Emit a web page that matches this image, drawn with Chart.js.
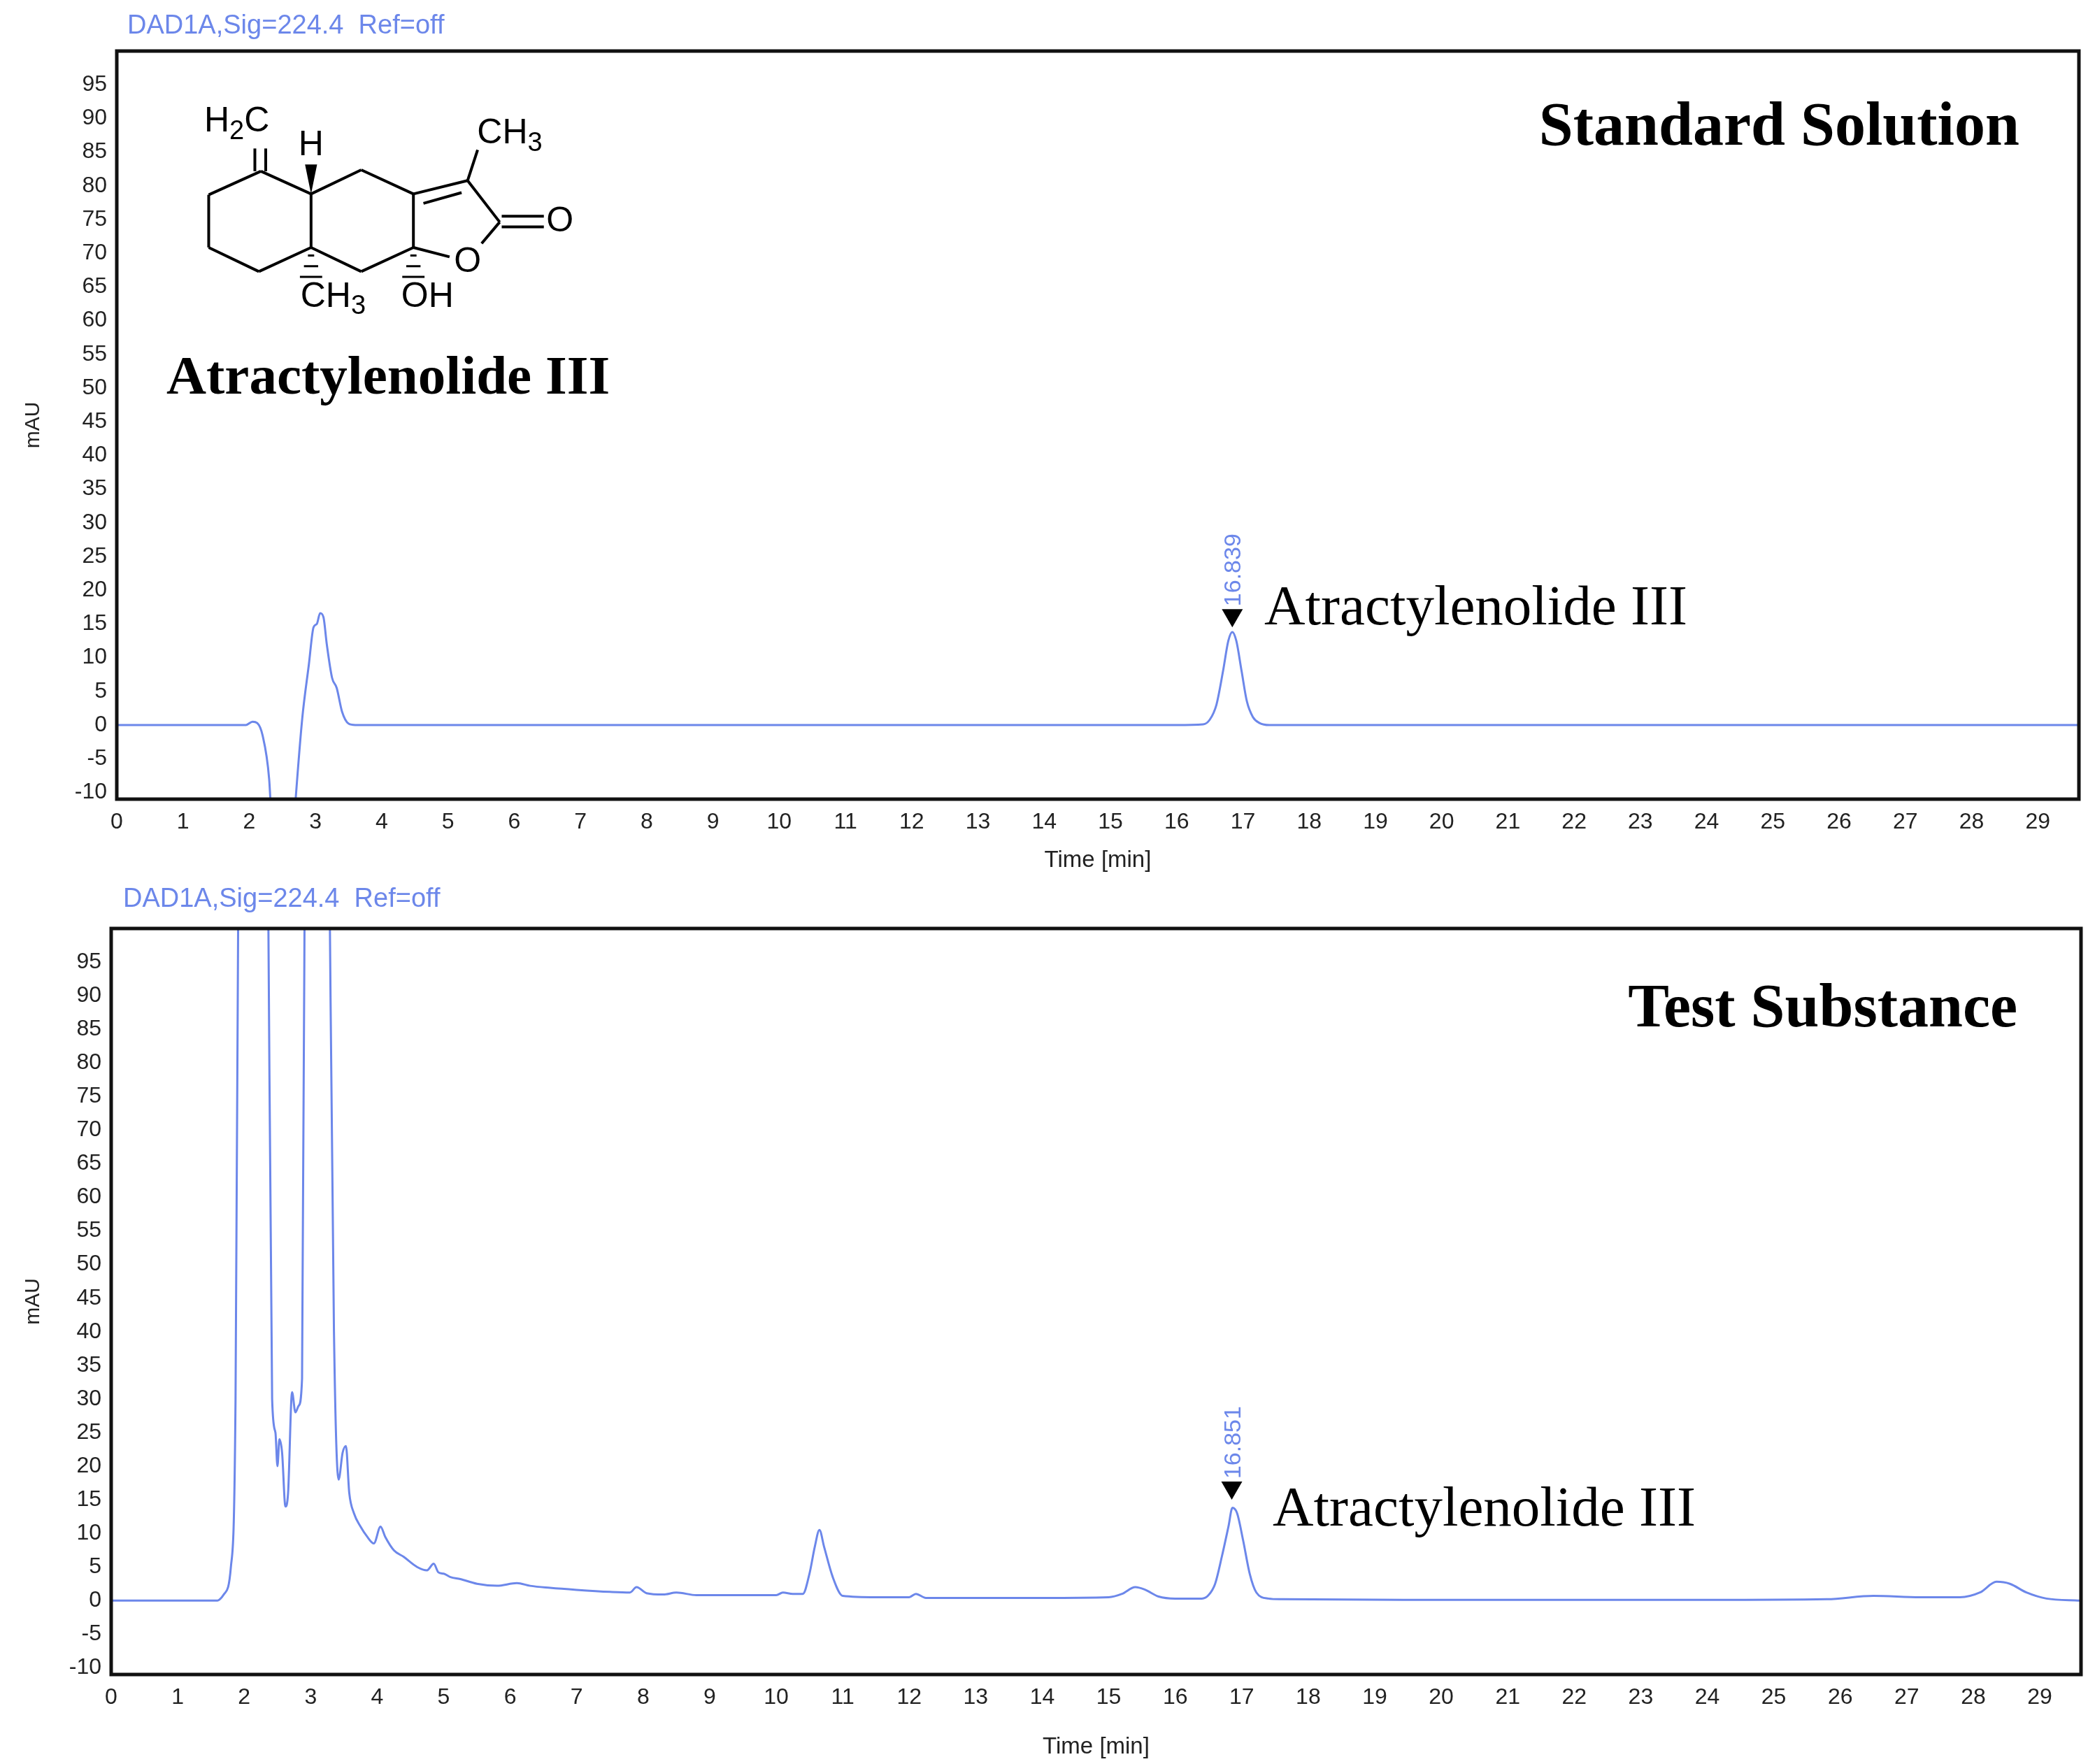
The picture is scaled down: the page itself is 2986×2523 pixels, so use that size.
<!DOCTYPE html>
<html><head><meta charset="utf-8">
<script src="https://cdn.jsdelivr.net/npm/chart.js@4"></script>
<style>body{margin:0;background:#fff;width:2986px;height:2523px;position:relative;overflow:hidden}canvas{position:absolute;left:0}</style>
</head><body>
<canvas id="c1" width="2986" height="1255" style="top:0"></canvas>
<canvas id="c2" width="2986" height="1268" style="top:1255px"></canvas>
<script>
const xTicks=[0,1,2,3,4,5,6,7,8,9,10,11,12,13,14,15,16,17,18,19,20,21,22,23,24,25,26,27,28,29];
const yTicks=[-10,-5,0,5,10,15,20,25,30,35,40,45,50,55,60,65,70,75,80,85,90,95];
const stdTime=[0,1.0,1.95,2.05,2.12,2.2,2.3,2.4,2.6,2.7,2.8,2.9,2.97,3.02,3.07,3.12,3.17,3.25,3.32,3.4,3.5,3.6,4,8,16,16.4,16.5,16.6,16.7,16.78,16.84,16.9,16.98,17.06,17.15,17.25,17.4,17.6,20,29.6];
const stdSignal=[0,0,0,0.5,0.3,-1.5,-8,-25,-25,-11,1,9,14.5,15,16.6,16,12,7,5.5,2,0.2,0,0,0,0,0.1,0.8,3,8,12.5,13.8,12.5,8,3.5,1.2,0.3,0,0,0,0];
const testTime=[0,1.6,1.7,1.8,1.87,1.93,2.0,2.2,2.35,2.42,2.47,2.5,2.53,2.57,2.62,2.66,2.72,2.77,2.82,2.87,2.93,3.0,3.2,3.28,3.35,3.42,3.48,3.53,3.58,3.65,3.75,3.85,3.95,4.05,4.12,4.25,4.4,4.6,4.75,4.85,4.92,5.0,5.1,5.25,5.5,5.8,6.1,6.3,6.6,7.0,7.5,7.8,7.9,8.05,8.3,8.5,8.8,9.5,10.0,10.1,10.25,10.4,10.5,10.58,10.65,10.72,10.85,11.0,11.5,12.0,12.1,12.25,13,14,15.0,15.2,15.4,15.55,15.75,16.0,16.4,16.5,16.6,16.7,16.8,16.86,16.93,17.02,17.12,17.22,17.4,17.6,20,24,25.8,26.5,27.2,27.8,28.1,28.35,28.55,28.8,29.1,29.6];
const testSignal=[0,0,1,5,30,140,200,200,120,30,25,20,24,22,14,16,31,28,29,33,150,200,200,110,40,18,22,23,16,13,11,9.5,8.5,11,9.5,7.5,6.5,5,4.5,5.5,4.2,4,3.5,3.2,2.5,2.2,2.6,2.2,1.9,1.6,1.3,1.2,2,1.1,0.9,1.2,0.8,0.8,0.8,1.2,1,1,4,8,10.5,8,3.5,0.7,0.5,0.5,1,0.4,0.4,0.4,0.5,1,2,1.6,0.6,0.3,0.3,0.8,2.5,6.5,11,13.8,13,9,4,1.2,0.3,0.2,0.1,0.1,0.2,0.7,0.5,0.5,1.2,2.8,2.5,1.2,0.3,0];
const std=stdTime.map((x,i)=>({x,y:stdSignal[i]}));
const test=testTime.map((x,i)=>({x,y:testSignal[i]}));
const BLUE='#6c87ea';
function frame(){return {id:'frame',afterDraw(c){const a=c.chartArea,g=c.ctx;g.save();g.strokeStyle='#111';g.lineWidth=5;g.strokeRect(a.left,a.top,a.right-a.left,a.bottom-a.top);g.restore();}};}
function annot(o){return {id:'annot',afterDraw(c){const g=c.ctx,xs=c.scales.x,ys=c.scales.y;g.save();
 g.fillStyle=BLUE;g.font='38px "Liberation Sans"';g.textBaseline='alphabetic';g.fillText('DAD1A,Sig=224.4  Ref=off',o.dx,o.dy);
 const px=xs.getPixelForValue(o.peak),py=ys.getPixelForValue(o.peakY);
 g.beginPath();g.moveTo(px-15,py-26);g.lineTo(px+15,py-26);g.lineTo(px,py);g.closePath();g.fillStyle='#000';g.fill();
 g.save();g.translate(px+12,py-30);g.rotate(-Math.PI/2);g.fillStyle=BLUE;g.font='34px "Liberation Sans"';g.fillText(o.rt,0,0);g.restore();
 g.fillStyle='#000';g.font='81px "Liberation Serif"';g.fillText('Atractylenolide III',o.lx,o.ly);
 g.font='bold 88px "Liberation Serif"';g.textAlign='right';g.fillText(o.title,o.tx,o.ty);
 if(o.mol){drawMol(g);}
 g.restore();}};}
function drawMol(g){const sx=900/1568,sy=600/1568,P=(x,y)=>[x*sx,y*sy];
 const L=(a,b)=>{g.beginPath();g.moveTo(...P(...a));g.lineTo(...P(...b));g.stroke();};
 g.strokeStyle='#000';g.lineWidth=4;
 const C1=[650,640],C2=[775,725],C3=[775,925],C4=[645,1015],C5=[520,925],C6=[520,728],C7=[900,635],C8=[1030,725],C9=[1030,925],C10=[900,1015],C11=[1165,675],C12=[1245,830];
 [[C1,C2],[C2,C3],[C3,C4],[C4,C5],[C5,C6],[C6,C1],[C2,C7],[C7,C8],[C8,C9],[C9,C10],[C10,C3],[C8,C11],[C11,C12],[C12,[1200,910]],[[1120,960],C9],[C11,[1190,560]]].forEach(p=>L(p[0],p[1]));
 L([1055,760],[1150,720]);L([1250,808],[1355,808]);L([1250,848],[1355,848]);
 L([635,640],[635,555]);L([662,640],[662,555]);
 g.beginPath();g.moveTo(...P(775,725));g.lineTo(...P(760,615));g.lineTo(...P(790,615));g.closePath();g.fillStyle='#000';g.fill();
 g.lineWidth=3;[[775,955],[775,995],[775,1035],[1030,955],[1030,995],[1030,1035]].forEach(d=>{const w=4+(d[1]-940)/4;L([d[0]-w,d[1]],[d[0]+w,d[1]]);});
 g.fillStyle='#000';g.textAlign='center';g.textBaseline='middle';g.font='50px "Liberation Sans"';
 g.fillText('H',775*sx,545*sy);g.fillText('O',1395*sx,828*sy);g.fillText('O',1165*sx,980*sy);g.fillText('OH',1065*sx,1110*sy);
 sub(g,'H','2','C',590*sx,455*sy);sub(g,'CH','3','',1270*sx,500*sy);sub(g,'CH','3','',830*sx,1110*sy);}
function sub(g,a,b,c,x,y){const F='50px "Liberation Sans"',f='38px "Liberation Sans"';g.font=F;const wa=g.measureText(a).width;g.font=f;const wb=g.measureText(b).width;g.font=F;const wc=g.measureText(c).width;let x0=x-(wa+wb+wc)/2;g.textAlign='left';g.fillText(a,x0,y);g.font=f;g.fillText(b,x0+wa,y+14);g.font=F;g.fillText(c,x0+wa+wb,y);g.textAlign='center';}
function make(id,data,top,xh,right,left,o){
 new Chart(document.getElementById(id),{type:'line',
 data:{datasets:[{data,borderColor:BLUE,borderWidth:3,pointRadius:0,cubicInterpolationMode:'monotone',fill:false}]},
 options:{responsive:false,animation:false,devicePixelRatio:1,layout:{padding:{top,right,left:0,bottom:0}},
 plugins:{legend:{display:false},tooltip:{enabled:false}},
 scales:{x:{type:'linear',min:0,max:29.62,afterBuildTicks:s=>{s.ticks=xTicks.map(v=>({value:v}));},afterFit:s=>{s.height=xh;},
   grid:{display:false,drawTicks:true,tickLength:12,tickColor:'#111',tickWidth:3},border:{display:false},
   ticks:{color:'#222',font:{family:'Liberation Sans',size:32},padding:2,maxRotation:0,autoSkip:false},
   title:{display:true,text:'Time [min]',color:'#222',font:{family:'Liberation Sans',size:33},padding:{top:0}}},
  y:{min:-11,max:100,afterBuildTicks:s=>{s.ticks=yTicks.map(v=>({value:v}));},afterFit:s=>{s.width=left;},
   grid:{display:false,drawTicks:true,tickLength:12,tickColor:'#111',tickWidth:3},border:{display:false},
   ticks:{color:'#222',font:{family:'Liberation Sans',size:32},padding:2,autoSkip:false},
   title:{display:true,text:'mAU',color:'#222',font:{family:'Liberation Sans',size:30},padding:{top:30,bottom:20}}}}},
 plugins:[frame(),annot(o)]});}
make('c1',std,73,112,2986-2973,167,{dx:182,dy:48,peak:16.84,peakY:14.5,rt:'16.839',lx:1808,ly:893,title:'Standard Solution',tx:2888,ty:207,mol:true});
make('c2',test,73,128,2986-2976,159,{dx:176,dy:42,peak:16.85,peakY:15,rt:'16.851',lx:1820,ly:2182-1255,title:'Test Substance',tx:2885,ty:1468-1255,mol:false});
</script>
<div style="position:absolute;left:238px;top:492px;font:bold 79px 'Liberation Serif';color:#000">Atractylenolide III</div>
</body></html>
